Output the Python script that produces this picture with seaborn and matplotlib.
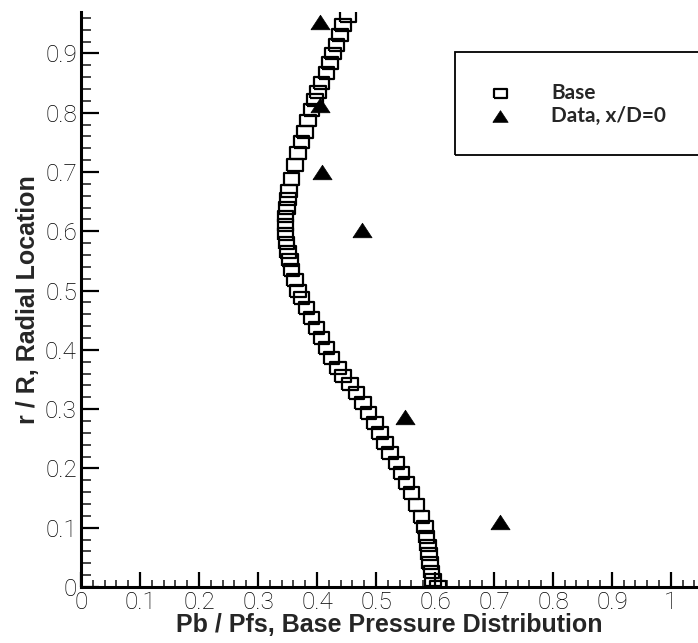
import numpy as np
import pandas as pd
import matplotlib
matplotlib.use("Agg")
import matplotlib.pyplot as plt
from matplotlib.ticker import MultipleLocator, FuncFormatter
from matplotlib.patches import Rectangle
import seaborn as sns

# ---- data ----
base_pb = [0.605, 0.597, 0.594, 0.592, 0.590, 0.588, 0.586, 0.583, 0.577, 0.569,
           0.560, 0.552, 0.543, 0.535, 0.524, 0.515, 0.507, 0.498, 0.487, 0.478,
           0.467, 0.456, 0.444, 0.436, 0.425, 0.416, 0.408, 0.399, 0.391, 0.382,
           0.374, 0.368, 0.363, 0.357, 0.354, 0.351, 0.348, 0.347, 0.347, 0.347,
           0.349, 0.351, 0.353, 0.357, 0.363, 0.368, 0.374, 0.380, 0.385, 0.391,
           0.397, 0.402, 0.408, 0.416, 0.422, 0.427, 0.433, 0.439, 0.444, 0.453]
base_r = [0.000, 0.012, 0.025, 0.040, 0.055, 0.070, 0.085, 0.101, 0.118, 0.138,
          0.158, 0.175, 0.192, 0.209, 0.226, 0.243, 0.260, 0.276, 0.293, 0.310,
          0.327, 0.342, 0.356, 0.370, 0.386, 0.403, 0.420, 0.437, 0.454, 0.470,
          0.487, 0.500, 0.518, 0.535, 0.551, 0.565, 0.580, 0.595, 0.610, 0.625,
          0.640, 0.655, 0.668, 0.688, 0.712, 0.732, 0.750, 0.767, 0.787, 0.804,
          0.821, 0.835, 0.850, 0.867, 0.884, 0.900, 0.914, 0.931, 0.948, 0.963]
data_pb = [0.405, 0.405, 0.408, 0.476, 0.549, 0.710]
data_r = [0.953, 0.813, 0.700, 0.602, 0.287, 0.110]

series_labels = ["Base", "Data, x/D=0"]
x_label = "Pb / Pfs, Base Pressure Distribution"
y_label = "r / R, Radial Location"

df_base = pd.DataFrame({"pb": base_pb, "r": base_r})
df_data = pd.DataFrame({"pb": data_pb, "r": data_r})

sns.set_style("white")
plt.rcParams["font.family"] = ["Liberation Sans", "DejaVu Sans"]

W, H = 698, 643
fig = plt.figure(figsize=(W / 100, H / 100), dpi=100)
ax_l, ax_r, ax_t, ax_b = 81, 698, 12, 587
ax = fig.add_axes([ax_l / W, (H - ax_b) / H, (ax_r - ax_l) / W, (ax_b - ax_t) / H])

rect_marker = [(-1.3, -1.0), (1.3, -1.0), (1.3, 1.0), (-1.3, 1.0), (-1.3, -1.0)]
tri_marker = [(-1.0, -0.76), (1.0, -0.76), (0.0, 0.76), (-1.0, -0.76)]

sns.scatterplot(data=df_base, x="pb", y="r", ax=ax, marker=rect_marker, s=125,
                facecolors="none", edgecolor="black", linewidth=1.6,
                label=series_labels[0], clip_on=True, zorder=3)
sns.scatterplot(data=df_data, x="pb", y="r", ax=ax, marker=tri_marker, s=190,
                color="black", edgecolor="black", linewidth=0.5,
                label=series_labels[1], zorder=4)

ax.set_xlim(0, 1.046)
ax.set_ylim(0, 0.97)

for s in ["top", "right"]:
    ax.spines[s].set_visible(False)
for s in ["left", "bottom"]:
    ax.spines[s].set_linewidth(2.2)
    ax.spines[s].set_color("black")

ax.xaxis.set_major_locator(MultipleLocator(0.1))
ax.xaxis.set_minor_locator(MultipleLocator(0.02))
ax.yaxis.set_major_locator(MultipleLocator(0.1))
ax.yaxis.set_minor_locator(MultipleLocator(0.02))
fmt = FuncFormatter(lambda v, p: f"{round(v, 2):g}")
ax.xaxis.set_major_formatter(fmt)
ax.yaxis.set_major_formatter(fmt)

ax.tick_params(axis="y", which="major", direction="in", length=13, width=1.6,
               pad=3, labelsize=17.5, colors="black")
ax.tick_params(axis="y", which="minor", direction="in", length=7, width=1.2)
ax.tick_params(axis="x", which="major", direction="in", length=11, width=1.6,
               pad=3, labelsize=17.5, colors="black")
ax.tick_params(axis="x", which="minor", direction="in", length=5, width=1.2)
ax.tick_params(left=True, bottom=True, which="both")
for lab in ax.get_xticklabels() + ax.get_yticklabels():
    lab.set_fontfamily(["Roboto", "Liberation Sans"])
    lab.set_fontweight("light")

ax.set_xlabel(x_label, fontsize=18, fontweight="bold")
ax.set_ylabel(y_label, fontsize=18, fontweight="bold")
ax.xaxis.set_label_coords(0.5, (ax_b - 613) / (ax_b - ax_t))
ax.yaxis.set_label_coords((40 - ax_l) / (ax_r - ax_l), 0.5)

# legend (text + markers) and its box, which runs off the right edge
leg = ax.legend(loc="upper left", bbox_to_anchor=(491 / W, (H - 83) / H),
                bbox_transform=fig.transFigure, frameon=False,
                prop={"family": "Lato", "weight": "bold", "size": 15},
                handlelength=0.9, handletextpad=2.0, labelspacing=0.12,
                borderpad=0, borderaxespad=0, markerscale=0.8)
fig.add_artist(Rectangle((455 / W, (H - 155) / H), 300 / W, 103 / H,
                         transform=fig.transFigure, fill=False,
                         edgecolor="black", linewidth=1.3, clip_on=False))

fig.savefig("out.png", dpi=100)
